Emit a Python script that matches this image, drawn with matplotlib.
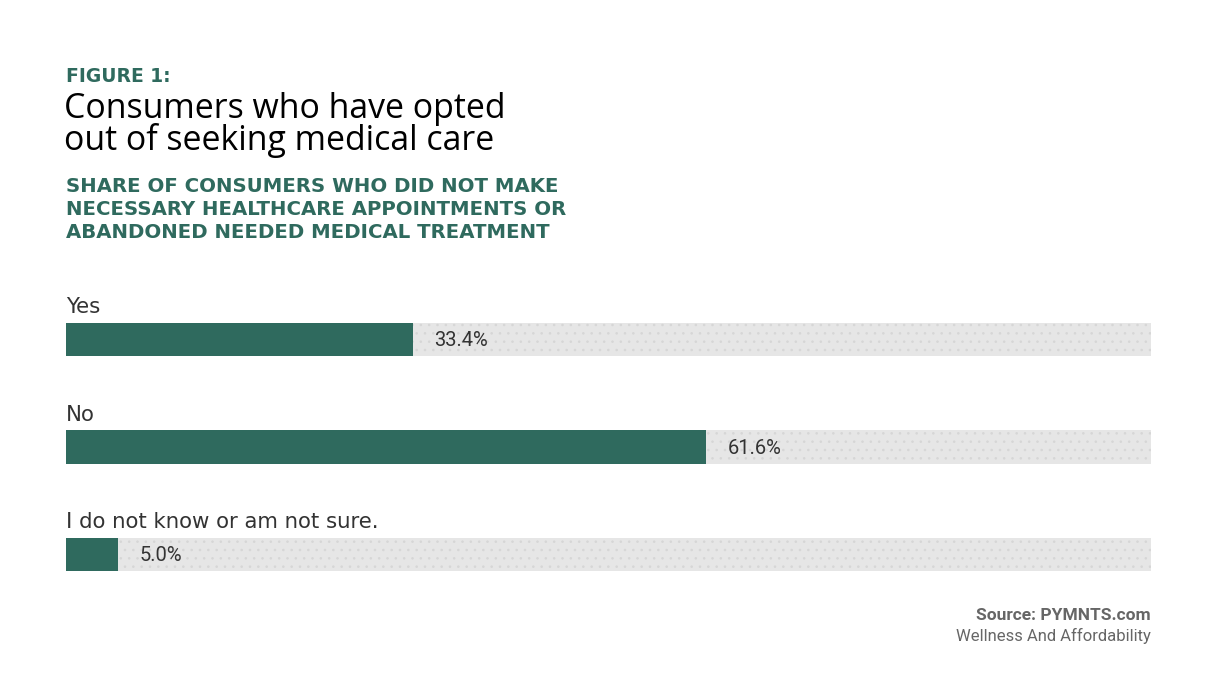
import matplotlib.pyplot as plt
import matplotlib as mpl

# data
categories = ["Yes", "No", "I do not know or am not sure."]
shares = [33.4, 61.6, 5.0]
value_labels = ["33.4%", "61.6%", "5.0%"]

GREEN = "#2f6a5e"
TRACK = "#e6e6e6"
W, H = 1210, 687

mpl.rcParams["hatch.linewidth"] = 0.6

fig = plt.figure(figsize=(W / 100, H / 100), dpi=100)
fig.patch.set_facecolor("white")

def px(x, y):
    return x / W, 1 - y / H

# axes placed in pixel terms: x 66..1151, bar centres ~107.5 px apart
top, bottom = 285.75, 608.25
ax = fig.add_axes([66 / W, 1 - bottom / H, (1151 - 66) / W, (bottom - top) / H])
ax.set_xlim(0, 104.5)
ax.set_ylim(2.5, -0.5)
ax.axis("off")

ypos = list(range(len(categories)))
bh = 0.307
ax.barh(ypos, [104.5] * len(ypos), height=bh, color=TRACK, edgecolor="#d6d6d6",
        linewidth=0, hatch="..", zorder=1)
ax.barh(ypos, shares, height=bh, color=GREEN, linewidth=0, zorder=2)

for y, cat, v, lab in zip(ypos, categories, shares, value_labels):
    ax.text(0, y - 0.245, cat, ha="left", va="baseline", fontsize=15.3,
            family="DejaVu Sans", color="#333333")
    ax.text(v + 2.1, y + 0.01, lab, ha="left", va="center", fontsize=14.5,
            family="Roboto", color="#333333", zorder=3)

# header texts
fig.text(*px(66, 82), "FIGURE 1:", ha="left", va="baseline", fontsize=13.5,
         family="DejaVu Sans", weight="bold", color=GREEN)
fig.text(*px(64, 118), "Consumers who have opted", ha="left", va="baseline",
         fontsize=24.4, family="Open Sans", color="black")
fig.text(*px(64, 150), "out of seeking medical care", ha="left", va="baseline",
         fontsize=24.4, family="Open Sans", color="black")
sub = ["SHARE OF CONSUMERS WHO DID NOT MAKE",
       "NECESSARY HEALTHCARE APPOINTMENTS OR",
       "ABANDONED NEEDED MEDICAL TREATMENT"]
for i, line in enumerate(sub):
    fig.text(*px(66, 192 + i * 23), line, ha="left", va="baseline",
             fontsize=14.2, family="DejaVu Sans", weight="bold", color=GREEN)

fig.text(*px(1151, 620), "Source: PYMNTS.com", ha="right", va="baseline",
         fontsize=12.5, family="Roboto", weight="bold", color="#666666")
fig.text(*px(1151, 641), "Wellness And Affordability", ha="right", va="baseline",
         fontsize=12, family="Roboto", color="#666666")

fig.savefig("out.png", dpi=100)
